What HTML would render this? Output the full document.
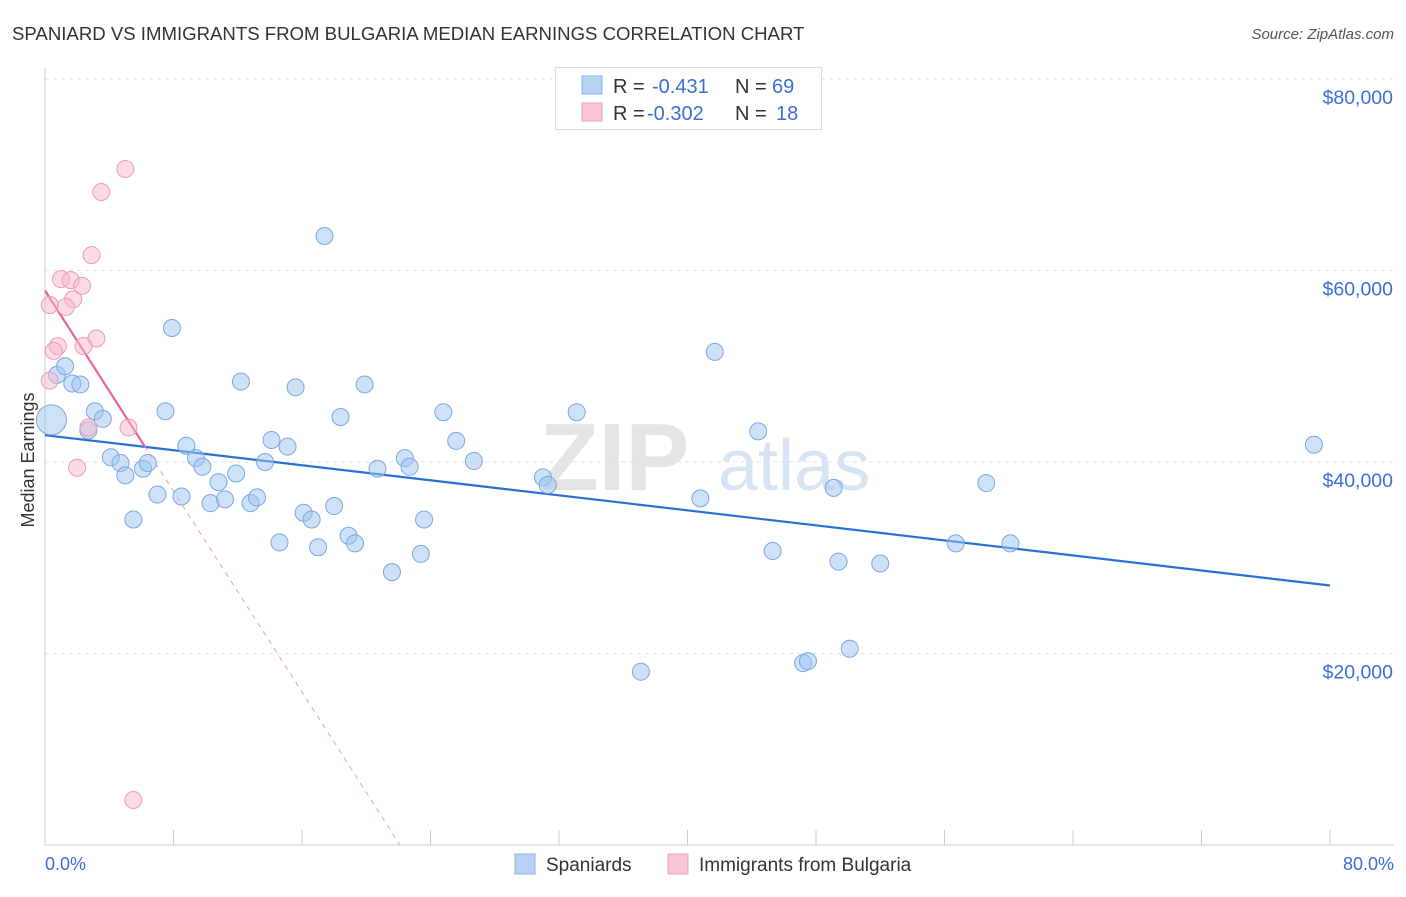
<!DOCTYPE html>
<html><head><meta charset="utf-8"><style>
body{margin:0;background:#fff;font-family:"Liberation Sans",sans-serif;}
svg text{font-family:"Liberation Sans",sans-serif;}
</style></head><body>
<svg id="chart" width="1406" height="892">
<text x="12" y="40" font-size="18.6" fill="#333">SPANIARD VS IMMIGRANTS FROM BULGARIA MEDIAN EARNINGS CORRELATION CHART</text>
<text x="1394" y="39" font-size="15" fill="#555" font-style="italic" text-anchor="end">Source: ZipAtlas.com</text>
<text x="540" y="490" font-size="96" fill="#e4e4e4" font-family="Liberation Serif" font-weight="bold">ZIP</text>
<text x="718" y="490" font-size="72" fill="#d6e4f5">atlas</text>
<g id="grid"></g><g id="axes"></g><g id="trend"></g><g id="pts"></g>
<text transform="translate(34,460) rotate(-90)" font-size="18" fill="#333" text-anchor="middle">Median Earnings</text>
<text x="45" y="870" font-size="18" fill="#3a6fd8">0.0%</text>
<text x="1394" y="870" font-size="18" fill="#3a6fd8" text-anchor="end">80.0%</text>
<g>
<rect x="555.5" y="67.5" width="266" height="62" fill="#fff" stroke="#ddd"/>
<rect x="582" y="76" width="20" height="18" fill="#b8d2f5" stroke="#8fb4ea"/>
<rect x="582" y="103" width="20" height="18" fill="#f9c6d4" stroke="#f0a0b8"/>
<text x="613" y="93" font-size="20" fill="#333">R = </text><text x="652" y="93" font-size="20" fill="#3a6fd8">-0.431</text>
<text x="735" y="93" font-size="20" fill="#333">N = </text><text x="772" y="93" font-size="20" fill="#3a6fd8">69</text>
<text x="613" y="120" font-size="20" fill="#333">R = </text><text x="647" y="120" font-size="20" fill="#3a6fd8">-0.302</text>
<text x="735" y="120" font-size="20" fill="#333">N = </text><text x="776" y="120" font-size="20" fill="#3a6fd8">18</text>
</g>
<g>
<rect x="515" y="854" width="20" height="20" fill="#b8d2f5" stroke="#8fb4ea"/>
<text x="546" y="871" font-size="19" fill="#333">Spaniards</text>
<rect x="668" y="854" width="20" height="20" fill="#f9c6d4" stroke="#f0a0b8"/>
<text x="699" y="871" font-size="19" fill="#333">Immigrants from Bulgaria</text>
</g>
</svg>
<script>
const blueX=[0.4,0.75,1.25,1.7,2.2,3.1,3.6,2.7,4.1,4.7,5.0,6.1,6.4,5.5,7.0,7.5,7.9,8.5,8.8,9.4,9.8,10.3,10.8,11.2,11.9,12.2,12.8,13.2,13.7,14.1,14.6,15.1,15.6,16.1,16.6,17.0,17.4,18.0,18.4,18.9,19.3,19.9,20.7,21.6,22.4,22.7,23.4,23.6,24.8,25.6,26.7,31.0,31.3,33.1,37.1,40.8,41.7,44.4,45.3,47.2,47.5,49.1,49.4,50.1,52.0,56.7,58.6,60.1,79.0];
const blueY=[44400,49100,50000,48200,48100,45300,44500,43300,40500,39900,38600,39300,39900,34000,36600,45300,54000,36400,41700,40400,39500,35700,37900,36100,38800,48400,35700,36300,40000,42300,31600,41600,47800,34700,34000,31100,63600,35400,44700,32300,31500,48100,39300,28500,40400,39500,30400,34000,45200,42200,40100,38400,37600,45200,18100,36200,51500,43200,30700,19000,19200,37300,29600,20500,29400,31500,37800,31500,41800];
const pinkX=[5.0,3.5,2.9,1.0,1.6,2.3,1.75,0.3,1.3,3.2,0.8,2.4,0.55,0.3,2.7,5.2,2.0,5.5];
const pinkY=[70600,68200,61600,59100,59000,58400,57000,56400,56200,52900,52100,52100,51600,48500,43600,43600,39400,4700];
const yTicks=[20000,40000,60000,80000];
const blueTrend=[42800,27100]; // at x=0 and x=80
const pinkTrend=[57900,-2620]; // intercept, slope per %
const NS="http://www.w3.org/2000/svg";
const sx=v=>45+v/80*1285, sy=v=>845-v/20000*191.5;
function mk(tag,attrs,parent){const e=document.createElementNS(NS,tag);for(const k in attrs)e.setAttribute(k,attrs[k]);document.getElementById(parent).appendChild(e);return e;}
yTicks.forEach(t=>{
 const g=mk('line',{x1:45,x2:1394,y1:sy(t),y2:sy(t),stroke:'#e2e2e2','stroke-dasharray':'4,4'},'grid');
 
 
 const l=mk('text',{x:1393,y:sy(t)+25,'font-size':19.5,fill:'#3a6fd8','text-anchor':'end'},'grid');
 l.textContent='$'+t.toLocaleString('en-US');
 
 
});
mk('line',{x1:45,x2:45,y1:68,y2:845,stroke:'#ccc'},'axes');
mk('line',{x1:45,x2:1394,y1:845,y2:845,stroke:'#ccc'},'axes');
for(let i=0;i<=10;i++){const t=mk('line',{x1:sx(i*8),x2:sx(i*8),y1:830,y2:845,stroke:'#ccc'},'axes');
 
 }
let bl=mk('line',{x1:sx(0),y1:sy(blueTrend[0]),x2:sx(80),y2:sy(blueTrend[1]),stroke:'#2a6fd6','stroke-width':2.2},'trend');


const pEnd=6.2, pZero=-pinkTrend[0]/pinkTrend[1];
let ps=mk('line',{x1:sx(0),y1:sy(pinkTrend[0]),x2:sx(pEnd),y2:sy(pinkTrend[0]+pinkTrend[1]*pEnd),stroke:'#e8668e','stroke-width':2.2},'trend');


let pd=mk('line',{x1:sx(pEnd),y1:sy(pinkTrend[0]+pinkTrend[1]*pEnd),x2:sx(pZero),y2:sy(0),stroke:'#e8a0b6','stroke-width':1,'stroke-dasharray':'5,5'},'trend');


blueX.forEach((x,i)=>{const c=mk('circle',{cx:sx(x),cy:sy(blueY[i]),r:i===0?15:8.5,fill:'rgba(160,195,240,0.5)',stroke:'#7aa7e6','stroke-width':1},'pts');
 
 });
pinkX.forEach((x,i)=>{const c=mk('circle',{cx:sx(x),cy:sy(pinkY[i]),r:8.5,fill:'rgba(248,185,205,0.5)',stroke:'#ef9ab5','stroke-width':1},'pts');
 
 });
</script>
</body></html>
